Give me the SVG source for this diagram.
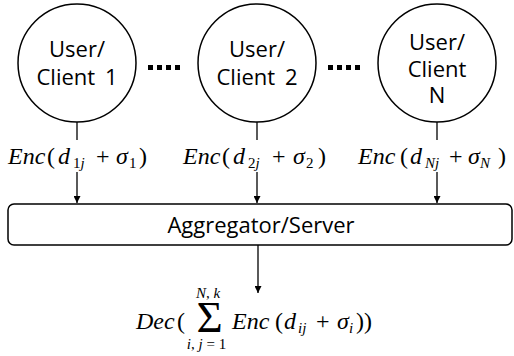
<svg xmlns="http://www.w3.org/2000/svg" width="514" height="356" viewBox="0 0 514 356">
<defs>
<marker id="ah" viewBox="0 0 10 10" refX="10" refY="5" markerWidth="8" markerHeight="7" markerUnits="userSpaceOnUse" orient="auto"><path d="M0,0 L10,5 L0,10 z" fill="#000"/></marker>
<style>
.node{fill:#fff;stroke:#000;stroke-width:1.5}
.lbl{font-family:"Open Sans","Noto Sans",sans-serif;font-size:22px;fill:#000;text-anchor:middle}
.math{font-family:"Liberation Serif","Times New Roman",serif;font-size:24px;fill:#000}
.it{font-style:italic}
.sub{font-size:15px}
.big{font-size:45px}
.ln{stroke:#000;stroke-width:1.3;fill:none}
.dot{fill:#000}
</style>
</defs>
<rect width="514" height="356" fill="#fff"/>
<g id="client1">
<circle class="node" cx="77" cy="63" r="59"/>
<text class="lbl" x="77" y="57">User/</text>
<text class="lbl" x="77" y="85" word-spacing="4">Client 1</text>
</g>
<g id="client2">
<circle class="node" cx="257" cy="63" r="59"/>
<text class="lbl" x="257" y="57">User/</text>
<text class="lbl" x="257" y="85" word-spacing="4">Client 2</text>
</g>
<g id="clientN">
<circle class="node" cx="437" cy="63" r="59"/>
<text class="lbl" x="437" y="50">User/</text>
<text class="lbl" x="437" y="77">Client</text>
<text class="lbl" x="437" y="103">N</text>
</g>
<g id="dots1">
<rect class="dot" x="148" y="65" width="5" height="5"/>
<rect class="dot" x="157" y="65" width="5" height="5"/>
<rect class="dot" x="166" y="65" width="5" height="5"/>
<rect class="dot" x="175" y="65" width="5" height="5"/>
</g>
<g id="dots2">
<rect class="dot" x="328" y="65" width="5" height="5"/>
<rect class="dot" x="337" y="65" width="5" height="5"/>
<rect class="dot" x="346" y="65" width="5" height="5"/>
<rect class="dot" x="355" y="65" width="5" height="5"/>
</g>
<g id="server">
<rect class="node" x="8" y="204" width="504" height="41" rx="6"/>
<text class="lbl" x="261" y="233">Aggregator/Server</text>
</g>
<g id="connectors">
<line class="ln" x1="77" y1="122" x2="77" y2="140"/>
<line class="ln" x1="77" y1="172" x2="77" y2="203" marker-end="url(#ah)"/>
<line class="ln" x1="257" y1="122" x2="257" y2="140"/>
<line class="ln" x1="257" y1="172" x2="257" y2="203" marker-end="url(#ah)"/>
<line class="ln" x1="437" y1="122" x2="437" y2="140"/>
<line class="ln" x1="437" y1="172" x2="437" y2="203" marker-end="url(#ah)"/>
<line class="ln" x1="258" y1="245" x2="258" y2="293" marker-end="url(#ah)"/>
</g>
<g id="enc1">
<text class="math" y="164"><tspan class="it" x="8">Enc</tspan><tspan x="47">(</tspan><tspan class="it" x="58">d</tspan><tspan class="sub" x="73" y="168">1<tspan class="it">j</tspan></tspan><tspan x="96" y="164">+</tspan><tspan class="it" x="116">σ</tspan><tspan class="sub" x="129" y="168">1</tspan><tspan x="139" y="164">)</tspan></text>
</g>
<g id="enc2">
<text class="math" y="164"><tspan class="it" x="183">Enc</tspan><tspan x="222">(</tspan><tspan class="it" x="233">d</tspan><tspan class="sub" x="248" y="168">2<tspan class="it">j</tspan></tspan><tspan x="272" y="164">+</tspan><tspan class="it" x="293">σ</tspan><tspan class="sub" x="306" y="168">2</tspan><tspan x="318" y="164">)</tspan></text>
</g>
<g id="encN">
<text class="math" y="164"><tspan class="it" x="358">Enc</tspan><tspan x="400">(</tspan><tspan class="it" x="410">d</tspan><tspan class="sub it" x="425" y="168">Nj</tspan><tspan x="449" y="164">+</tspan><tspan class="it" x="468">σ</tspan><tspan class="sub it" x="480" y="168">N</tspan><tspan x="498" y="164">)</tspan></text>
</g>
<g id="result">
<text class="math" y="329"><tspan class="it" x="136">Dec</tspan><tspan x="177">(</tspan></text>
<text class="math big" x="209.5" y="332" text-anchor="middle">Σ</text>
<text class="math sub" x="208" y="298" text-anchor="middle"><tspan class="it">N</tspan>, <tspan class="it">k</tspan></text>
<text class="math sub" x="206.5" y="349" text-anchor="middle"><tspan class="it">i</tspan>, <tspan class="it">j</tspan> = 1</text>
<text class="math" y="329"><tspan class="it" x="232">Enc</tspan><tspan x="275">(</tspan><tspan class="it" x="284">d</tspan><tspan class="sub it" x="298" y="333">ij</tspan><tspan x="316" y="329">+</tspan><tspan class="it" x="337">σ</tspan><tspan class="sub it" x="349" y="333">i</tspan><tspan x="356" y="329">))</tspan></text>
</g>
</svg>
